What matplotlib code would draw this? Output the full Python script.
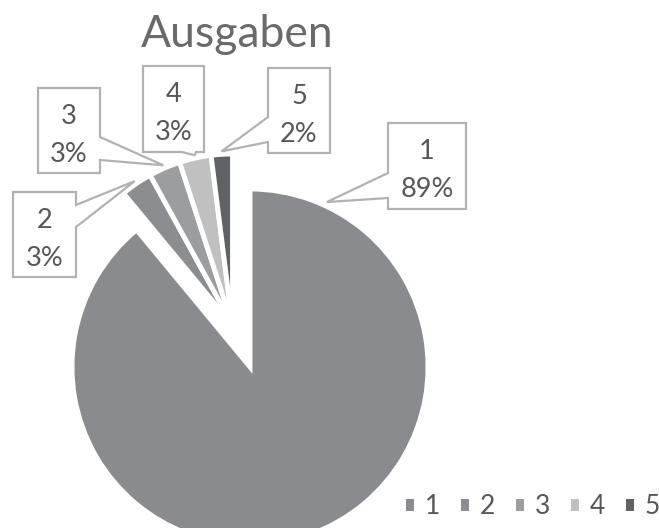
import matplotlib.pyplot as plt
import matplotlib.patches as mpatches
import numpy as np

# data
categories = ["1", "2", "3", "4", "5"]
values = [89, 3, 3, 3, 2]
colors = ["#8a8b8e", "#8c8d90", "#9c9d9f", "#c0c0c1", "#606265"]
title = "Ausgaben"

W, H = 659, 528
TXT = "#575757"
EDGE = "#b2b2b2"
FONT = "Lato"


def py(y):
    # pixel row (from top) -> data y (from bottom)
    return H - y


def callout(ax, box, side, base, tip, name, pct):
    l, t, r, b = box
    top, bot = py(t), py(b)
    tx, ty = tip
    if side == "left":
        verts = [(l, top), (r, top), (r, bot), (l, bot), (l, py(base[1])), (tx, ty), (l, py(base[0]))]
    elif side == "right":
        verts = [(l, top), (r, top), (r, py(base[0])), (tx, ty), (r, py(base[1])), (r, bot), (l, bot)]
    else:  # bottom
        verts = [(l, top), (r, top), (r, bot), (base[1], bot), (tx, ty), (base[0], bot), (l, bot)]
    ax.add_patch(mpatches.Polygon(verts, closed=True, fc="white", ec=EDGE, lw=1.6, zorder=3))
    xc = (l + r) / 2
    ax.text(xc, py(t + 36), name, ha="center", va="baseline", fontsize=19.5,
            color=TXT, family=FONT, zorder=4)
    ax.text(xc, py(t + 74), pct, ha="center", va="baseline", fontsize=19.5,
            color=TXT, family=FONT, zorder=4)


fig = plt.figure(figsize=(W / 100, H / 100), dpi=100)
ax = fig.add_axes([0, 0, 1, 1])

wprops = dict(edgecolor="white", linewidth=3.5)
big_c, big_r = (250, py(367)), 178
small_c, small_r = (232.5, py(325)), 171
big, _ = ax.pie(values, colors=colors, startangle=90, counterclock=False,
                center=big_c, radius=big_r, wedgeprops=wprops)
small, _ = ax.pie(values, colors=colors, startangle=90, counterclock=False,
                  center=small_c, radius=small_r, wedgeprops=wprops)
for w in big[1:]:
    w.set_visible(False)
small[0].set_visible(False)

total = sum(values)
pcts = [f"{v / total * 100:.0f}%" for v in values]


def point(center, r, ang):
    a = np.deg2rad(ang)
    return center[0] + r * np.cos(a), center[1] + r * np.sin(a)


# callout tips
tips = [point(big_c, big_r + 4, 65)]
for w in small[1:]:
    tips.append(point(small_c, small_r + 3, (w.theta1 + w.theta2) / 2))

boxes = [
    ((388, 123, 466, 209), "left", (173, 198)),
    ((13, 192, 76, 277), "right", (205, 227)),
    ((38, 88, 100, 173), "right", (137, 160)),
    ((143, 66, 204, 152), "bottom", (182, 196)),
    ((268, 68, 330, 153), "left", (117, 142)),
]
for (box, side, base), tip, c, p in zip(boxes, tips, categories, pcts):
    callout(ax, box, side, base, tip, c, p)

ax.text(237, py(47), title, ha="center", va="baseline", fontsize=32, color="#6a6a6a", family=FONT)

handles = [mpatches.Patch(facecolor=c) for c in colors]
ax.legend(handles, categories, ncol=5, loc="center left", bbox_to_anchor=(406 / W, py(507) / H),
          frameon=False, borderpad=0, borderaxespad=0, handlelength=0.3, handleheight=0.3,
          handletextpad=0.42, columnspacing=0.78, prop=dict(family=FONT, size=19), labelcolor=TXT)

ax.set_xlim(0, W)
ax.set_ylim(0, H)
ax.set_aspect("equal")
ax.axis("off")
fig.savefig("out.png", dpi=100, facecolor="white")
